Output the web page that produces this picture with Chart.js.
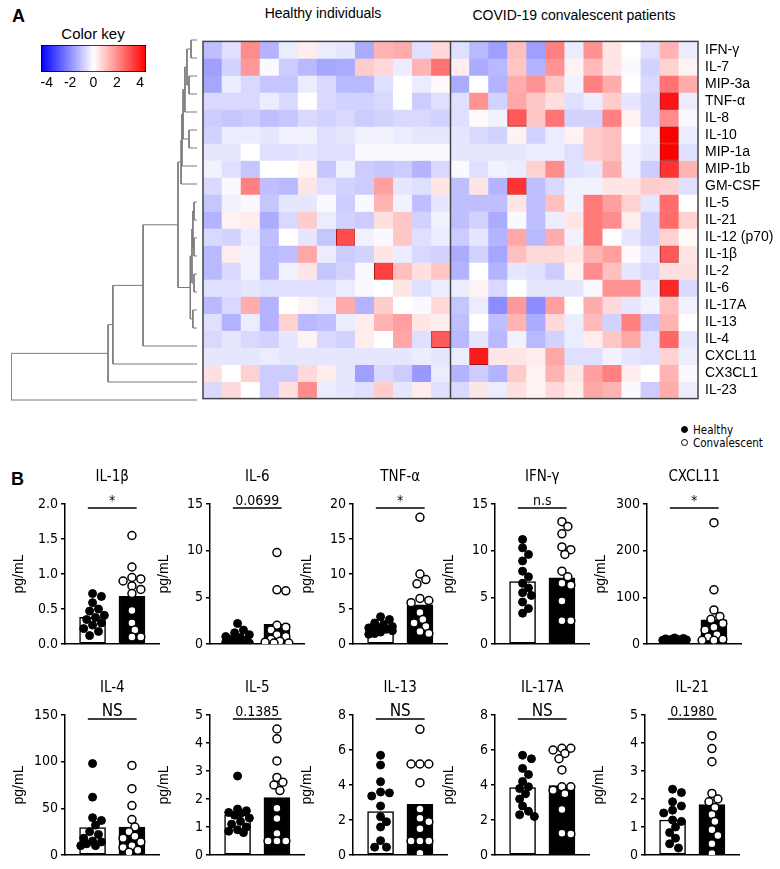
<!DOCTYPE html>
<html>
<head>
<meta charset="utf-8">
<script src="https://cdn.jsdelivr.net/npm/chart.js@4.4.1/dist/chart.umd.min.js"></script>
<style>
  body { margin: 0; background: #fff; }
  #page { position: relative; width: 780px; height: 869px; overflow: hidden; font-family: "Liberation Sans", Arial, sans-serif; color: #000; }
  canvas { position: absolute; }
  .txt { position: absolute; white-space: nowrap; line-height: 1; }
  .c { transform: translate(-50%, -50%); }
  .dot { display: inline-block; width: 5px; height: 5px; border-radius: 50%; border: 1px solid #000; margin-right: 5px; vertical-align: 1px; }
</style>
</head>
<body>
<div id="page">
  <div class="txt" style="left:12px;top:7px;font-weight:bold;font-size:18px;">A</div>
  <div class="txt c" style="left:93px;top:33px;font-size:15px;">Color key</div>
  <div class="txt c" style="left:323px;top:13px;font-size:14px;">Healthy individuals</div>
  <div class="txt c" style="left:574px;top:15px;font-size:14px;">COVID-19 convalescent patients</div>
  <div class="txt" style="left:681px;top:425px;font-size:11.5px;font-family:'Liberation Sans Narrow','DejaVu Sans Condensed',sans-serif;"><span class="dot" style="background:#000"></span>Healthy</div>
  <div class="txt" style="left:681px;top:438px;font-size:11.5px;font-family:'Liberation Sans Narrow','DejaVu Sans Condensed',sans-serif;"><span class="dot" style="background:#fff"></span>Convalescent</div>
  <div class="txt" style="left:11px;top:470px;font-weight:bold;font-size:18px;">B</div>

  <canvas id="dendro" width="203" height="388" style="left:0;top:26px;"></canvas>
  <canvas id="heat" width="582" height="388" style="left:198px;top:26px;"></canvas>
  <canvas id="key" width="128" height="55" style="left:30px;top:40px;"></canvas>
</div>

<script>
// ---------- panel A: heatmap ----------
const cytokines = ["IFN-γ", "IL-7", "MIP-3a", "TNF-α", "IL-8", "IL-10", "MIP-1a", "MIP-1b", "GM-CSF",
  "IL-5", "IL-21", "IL-12 (p70)", "IL-1β", "IL-2", "IL-6", "IL-17A", "IL-13", "IL-4", "CXCL11", "CX3CL1", "IL-23"];

// z-scores, one row per cytokine, 13 healthy donors
const healthyZ = [
  [-1, -0.5, 1.8, -1.2, -0.3, 0.3, -0.3, -0.4, -1.3, 1.2, 1.3, -0.5, 0.6],
  [-1.5, -0.7, 1.6, -0.1, -0.8, -1.1, -1.4, -1.3, 0.8, 0.6, -0.3, 1.2, 2.2],
  [-1.4, -0.3, -0.6, -0.9, -0.9, -0.3, -0.6, -1.1, -1.1, -0.5, 0, -0.3, 0.1],
  [-0.6, -0.6, -0.6, -0.3, -0.6, 0, -0.6, -0.7, -0.7, -0.6, 0, -0.8, -0.5],
  [-0.8, -0.9, -0.8, -1.0, -0.9, -0.6, -0.7, -0.6, -0.8, -0.7, -0.6, -0.6, -0.7],
  [-0.7, -0.3, -0.3, -0.4, -0.2, -0.2, -0.5, -0.4, -0.2, -0.2, -0.3, -0.4, -0.4],
  [-0.4, -0.4, 0, -0.5, -0.5, -0.4, -0.5, -0.5, -0.1, -0.1, -0.1, -0.1, -0.1],
  [-0.2, -0.5, -0.9, 0, 0, 0.2, -0.9, -0.2, -0.8, -0.9, -0.8, -1.2, -0.6],
  [-0.6, -0.1, 2.0, -1.0, -1.1, 0.4, -0.5, -0.7, -0.8, 1.5, -0.4, -0.5, 0.4],
  [-0.9, -0.2, -0.1, -0.9, -0.4, -0.4, -0.1, -0.8, -0.1, 1.2, -0.2, -1.0, -0.4],
  [-1.2, 0.2, 0.3, -1.3, -0.6, 0.8, -0.3, -0.7, -0.8, 0.5, 0.9, -0.7, -0.2],
  [-0.6, -0.7, -0.3, -1.0, 0, -0.4, -0.9, 2.8, -0.2, -0.1, 0.9, -0.5, -0.3],
  [-1.1, 0.3, -0.2, -1.1, -1.0, 1.4, -0.3, -0.8, -0.7, 0.4, -0.3, -0.6, -0.7],
  [-1.1, -0.6, -0.2, -1.1, -0.2, 0.4, -0.9, -0.7, -0.1, 3.0, 1.0, 0.5, 0.9],
  [-0.5, -0.5, -0.4, -0.5, -0.5, -0.5, -0.5, -0.3, -0.1, 0, 0.4, -0.5, -0.3],
  [-1.1, -0.6, 1.3, -1.2, 0, 0.2, -0.3, 1.3, -1.2, 0.8, 0, -0.1, 0.6],
  [-0.5, -1.2, -0.3, -1.2, 0.7, -1.1, -1.0, -0.3, 0.3, 1.2, 1.5, 0.4, 0.3],
  [-0.6, -0.4, -0.6, -0.7, -0.4, 0.2, -0.6, -0.7, 0.3, 0, 1.4, -0.5, 2.6],
  [-0.4, -0.4, -0.4, -0.3, -0.4, -0.4, -0.4, -0.4, -0.4, -0.4, -0.4, -0.3, -0.4],
  [0.5, 0, 0.7, -0.8, -0.8, 0.6, 0.3, -0.4, -1.5, -0.6, -0.8, -1.6, -0.3],
  [-0.6, 0.6, 0, -0.8, 0.5, 1.8, -0.3, -0.4, -0.5, 0.8, -0.4, 0.3, -0.5]
];

// z-scores, 13 convalescent patients
const covidZ = [
  [-0.5, -1.1, -1.5, 1.0, -1.5, 2.0, -0.3, 1.7, 0.4, 0, -0.5, 1.2, -0.3],
  [0.3, -1.3, -1.1, 0.9, -1.2, 1.7, 0.2, 1.1, 0.4, -0.1, -0.7, 0.7, 0.2],
  [-1.3, 0, -1.2, 1.3, 1.7, 0.9, -0.2, 2.0, 1.3, 0, -0.6, 2.2, 1.3],
  [-0.5, 1.7, -0.7, 1.4, 0.9, 0.5, -0.5, -0.3, 0.8, -0.4, -0.7, 3.7, -0.3],
  [-0.5, 0.1, -0.2, 2.6, 0.9, 2.2, -0.7, -0.7, 2.0, 0.2, -0.7, 1.8, -0.1],
  [-0.4, -0.6, -0.7, 0.2, -0.7, -0.3, 0.2, 0.8, 1.0, 0, -0.3, 4.0, -0.3],
  [-0.4, -0.4, -0.4, -0.4, -0.3, -0.3, -0.5, 0.8, 1.0, -0.2, -0.4, 4.0, -0.5],
  [-0.1, -0.5, -0.2, -0.3, 0.7, 1.8, -0.5, -0.4, 1.3, -0.2, -0.8, 3.2, 1.2],
  [-1.0, 0.4, -1.2, 3.2, -1.0, -0.6, -0.2, -0.2, 0.4, 0.4, 0.8, 0.7, -0.5],
  [-1.0, -1.0, -1.0, 0.4, -1.0, 1.0, -0.2, 2.1, 1.5, 0.7, -0.4, 2.3, 0],
  [-1.0, -0.7, -1.3, -0.1, -1.0, -0.3, 0.4, 2.1, 1.8, 0.3, -0.7, 2.3, 0.7],
  [-0.8, -0.4, -1.2, 1.4, -1.1, 1.3, -0.2, 2.1, 0, -0.4, -0.7, 0.7, 0.1],
  [-1.3, -0.7, -1.4, 1.0, 0.6, 0.6, 0.4, 1.2, 1.5, 0.1, -0.4, 2.6, 0.4],
  [-1.2, 0, -1.2, -0.4, -0.5, -0.8, 0.2, 1.8, 1.0, -0.4, -0.6, 0.5, 0.5],
  [-0.3, 0.2, -0.6, 0, -0.4, -0.4, -0.4, -0.1, 1.7, 1.7, -0.4, 3.4, -0.6],
  [-0.9, -0.3, -1.8, 1.6, -1.8, 1.5, 0, 1.3, 0.6, -0.4, -0.2, 1.0, -0.2],
  [-1.0, 0, -1.0, 1.2, -1.3, 0.6, -0.3, 1.1, -0.7, 2.0, -0.9, 1.2, 0],
  [-1.1, -0.4, -1.1, -0.2, -1.1, -0.7, -0.3, 0.3, 0.9, 1.4, -0.5, 2.4, -0.4],
  [-0.3, 3.6, 0.4, 0.4, 0.3, 1.4, -0.5, -0.5, -0.2, -0.4, -0.5, 0.7, -0.3],
  [-1.2, -0.8, -1.2, 0.8, 0.2, 1.2, 0.4, 1.5, 2.0, 0.3, 0, 1.2, -0.1],
  [-0.6, 0.4, -0.3, 0.5, 0.2, 0.6, 0.3, 1.4, 1.2, -0.1, -0.8, 1.3, -0.3]
];

// row dendrogram, hclust style: negative = row (-(i+1)), positive = earlier merge (1-based)
const dendroMerge = [
  [-1, -2, 0.32], [-3, -4, 0.43], [1, 2, 0.54], [3, -5, 0.65], [-6, -7, 0.43],
  [4, 5, 0.75], [6, -8, 0.81], [7, -9, 0.86], [-10, -11, 0.16], [-12, -13, 0.16],
  [9, 10, 0.22], [-14, -15, 0.16], [11, 12, 0.27], [-16, -17, 0.22], [13, 14, 0.36],
  [8, 15, 1.02], [16, -18, 2.9], [17, -19, 4.52], [18, -20, 4.78], [19, -21, 10]
];

const keyTicks = [-4, -2, 0, 2, 4];

// ---------- panel B ----------
const panelNames = ["IL-1β", "IL-6", "TNF-α", "IFN-γ", "CXCL11", "IL-4", "IL-5", "IL-13", "IL-17A", "IL-21"];
const panelP = ["*", "0.0699", "*", "n.s", "*", "NS", "0.1385", "NS", "NS", "0.1980"];
const panelMax = [2, 15, 20, 15, 300, 150, 5, 8, 8, 5];
const panelStep = [0.5, 5, 5, 5, 100, 50, 1, 2, 2, 1];
const healthyMean = [0.38, 0.45, 2.4, 6.7, 9, 29.5, 1.43, 2.48, 3.85, 1.25];
const covidMean = [0.68, 2.1, 5.6, 7.1, 52, 30, 2.05, 2.9, 3.96, 1.8];

const healthyPts = [
  [0.72, 0.68, 0.59, 0.5, 0.47, 0.41, 0.38, 0.35, 0.3, 0.27, 0.22, 0.18, 0.12],
  [2.2, 1.5, 1.2, 1.0, 0.8, 0.7, 0.5, 0.4, 0.3, 0.2, 0.1, 0.1, 0.05],
  [3.9, 3.5, 3.0, 2.8, 2.5, 2.3, 2.2, 2.1, 2.0, 1.9, 1.7, 1.5, 1.4],
  [11.2, 10.3, 9.6, 8.9, 7.8, 7.2, 6.5, 6.0, 5.5, 5.2, 4.5, 3.8, 3.3],
  [13, 12, 11, 10, 10, 9, 8, 8, 7, 7, 6, 5, 5],
  [98, 62, 40, 37, 32, 25, 22, 18, 15, 14, 12, 10, 10],
  [2.82, 1.64, 1.58, 1.52, 1.48, 1.42, 1.32, 1.2, 1.1, 1.0, 0.9, 0.85, 0.8],
  [5.7, 5.14, 4.19, 3.6, 3.55, 3.37, 2.8, 2.19, 1.9, 1.6, 0.82, 0.45, 0.45],
  [5.7, 5.5, 4.95, 4.6, 4.2, 3.9, 3.8, 3.5, 3.2, 2.8, 2.5, 2.3, 2.2],
  [2.35, 2.23, 1.9, 1.75, 1.6, 1.5, 1.25, 1.2, 1.0, 0.8, 0.6, 0.4, 0.25]
];
const covidPts = [
  [1.55, 1.1, 0.95, 0.93, 0.9, 0.83, 0.78, 0.72, 0.48, 0.3, 0.2, 0.1, 0.1],
  [9.8, 5.8, 5.7, 2.0, 1.8, 1.5, 1.0, 0.8, 0.5, 0.3, 0.2, 0.1, 0.1],
  [18.1, 10, 9.2, 8.6, 6.5, 6.2, 5.9, 4.5, 3.5, 3.0, 2.5, 1.8, 1.5],
  [13.1, 12.6, 11.8, 10.4, 10.1, 9.6, 7.8, 7.2, 6.5, 6.3, 4.6, 2.5, 2.5],
  [260, 116, 73, 59, 53, 44, 36, 30, 20, 15, 10, 8, 8],
  [96, 71, 53, 38, 30, 25, 20, 18, 14, 10, 8, 5, 3],
  [4.5, 4.15, 3.36, 2.77, 2.6, 2.5, 2.3, 1.67, 1.3, 0.77, 0.5, 0.5, 0.5],
  [7.18, 5.2, 5.2, 5.2, 4.13, 2.63, 2.1, 1.9, 1.5, 0.8, 0.8, 0.8, 0.1],
  [6.1, 6.1, 6.0, 5.8, 5.5, 4.86, 3.9, 3.9, 3.7, 3.5, 2.6, 1.24, 1.2],
  [4.26, 3.8, 3.33, 2.2, 2.0, 1.9, 1.7, 1.45, 1.2, 0.9, 0.7, 0.4, 0.05]
];

const FONT = '"Liberation Sans", Arial, sans-serif';
const NARROW = '"Liberation Sans Narrow", "DejaVu Sans Condensed", "Liberation Sans", sans-serif';
Chart.defaults.color = "#000";

function zColor(v) {
  const t = Math.max(-1, Math.min(1, v / 4));
  if (t < 0) {
    const c = Math.round(255 * (1 + t));
    return "rgb(" + c + "," + c + ",255)";
  }
  const c = Math.round(255 * (1 - t));
  return "rgb(255," + c + "," + c + ")";
}

// ----- heatmap (stacked cells) -----
const sampleIds = healthyZ[0].map((_, i) => "H" + (i + 1)).concat(covidZ[0].map((_, i) => "C" + (i + 1)));

const heatFrame = {
  id: "heatFrame",
  afterDatasetsDraw(chart) {
    const { ctx, chartArea: a, scales: { x } } = chart;
    const mid = (x.getPixelForValue(12) + x.getPixelForValue(13)) / 2;
    ctx.save();
    ctx.strokeStyle = "#444";
    ctx.lineWidth = 1.5;
    ctx.strokeRect(a.left, a.top, a.right - a.left, a.bottom - a.top);
    ctx.beginPath();
    ctx.moveTo(mid, a.top);
    ctx.lineTo(mid, a.bottom);
    ctx.stroke();
    ctx.restore();
  }
};

new Chart(document.getElementById("heat"), {
  type: "bar",
  data: {
    labels: sampleIds,
    datasets: cytokines.map((name, r) => {
      const row = healthyZ[r].concat(covidZ[r]);
      return {
        label: name,
        data: row.map(() => 1),
        backgroundColor: row.map(zColor),
        borderColor: "rgba(160,0,0,0.9)",
        borderWidth: row.map(v => (v >= 2.5 ? 1 : 0)),
        borderSkipped: false,
        barPercentage: 1,
        categoryPercentage: 1
      };
    })
  },
  options: {
    responsive: false, animation: false, devicePixelRatio: 1,
    layout: { padding: { left: 5, top: 5, bottom: 5, right: 0 } },
    plugins: { legend: { display: false }, tooltip: { enabled: false } },
    scales: {
      x: { stacked: true, display: false },
      y: {
        stacked: true, position: "right", reverse: true, min: 0, max: cytokines.length,
        afterBuildTicks: s => { s.ticks = cytokines.map((_, i) => ({ value: i + 0.5 })); },
        afterFit: s => { s.width = 82; },
        ticks: { autoSkip: false, padding: 7, font: { family: FONT, size: 14 }, callback: (v, i) => cytokines[i] },
        grid: { display: false, drawTicks: false },
        border: { display: false }
      }
    }
  },
  plugins: [heatFrame]
});

// ----- dendrogram -----
function dendroSegments() {
  const nodes = [];
  const node = id => (id < 0 ? { y: -id - 0.5, h: 0 } : nodes[id - 1]);
  return dendroMerge.map(([a, b, h]) => {
    const A = node(a), B = node(b);
    nodes.push({ y: (A.y + B.y) / 2, h: h });
    return [{ x: A.h, y: A.y }, { x: h, y: A.y }, { x: h, y: B.y }, { x: B.h, y: B.y }];
  });
}

new Chart(document.getElementById("dendro"), {
  type: "scatter",
  data: {
    datasets: dendroSegments().map(seg => ({
      data: seg, showLine: true, borderColor: "#7a7a7a", borderWidth: 1, pointRadius: 0
    }))
  },
  options: {
    responsive: false, animation: false, devicePixelRatio: 1,
    layout: { padding: { left: 11, right: 6, top: 5, bottom: 5 } },
    plugins: { legend: { display: false }, tooltip: { enabled: false } },
    scales: {
      x: { display: false, type: "linear", min: 0, max: 10, reverse: true },
      y: { display: false, type: "linear", min: 0, max: cytokines.length, reverse: true }
    }
  }
});

// ----- colour key -----
new Chart(document.getElementById("key"), {
  type: "bar",
  data: {
    labels: ["key"],
    datasets: [{
      data: [[-4.5, 4.5]],
      backgroundColor: c => {
        const a = c.chart.chartArea;
        if (!a) return "#fff";
        const g = c.chart.ctx.createLinearGradient(a.left, 0, a.right, 0);
        g.addColorStop(0, zColor(-4));
        g.addColorStop(0.5, zColor(0));
        g.addColorStop(1, zColor(4));
        return g;
      },
      borderColor: "#000", borderWidth: 1, borderSkipped: false,
      barPercentage: 1, categoryPercentage: 1
    }]
  },
  options: {
    indexAxis: "y",
    responsive: false, animation: false, devicePixelRatio: 1,
    layout: { padding: { left: 11, right: 12, top: 5, bottom: 0 } },
    plugins: { legend: { display: false }, tooltip: { enabled: false } },
    scales: {
      x: {
        type: "linear", min: -4.5, max: 4.5, offset: false,
        afterBuildTicks: s => { s.ticks = keyTicks.map(v => ({ value: v })); },
        afterFit: s => { s.height = 23; },
        ticks: { padding: 3, font: { family: FONT, size: 14 } },
        grid: { display: false, drawTicks: false },
        border: { display: false }
      },
      y: { display: false }
    }
  }
});

// ----- panel B small charts -----
const AREA_W = 96, AREA_H = 140;
const axisLeft = [65, 210, 353, 495, 647, 65, 210, 353, 495, 645];
const areaTop = [504, 504, 504, 504, 504, 715, 715, 715, 715, 715];

// simple beeswarm: spread overlapping dots sideways, at most ~12px from the bar centre
function swarm(vals, yMax, center) {
  const sy = AREA_H / yMax, sx = AREA_W / 2.4, d = 7.5;
  const placed = [], xs = new Array(vals.length);
  const order = vals.map((v, i) => i).sort((a, b) => vals[b] - vals[a]);
  for (const i of order) {
    const py = vals[i] * sy;
    let best = 0, bestGap = -1;
    for (let k = 0; k < 9; k++) {
      const off = (k % 2 ? 1 : -1) * Math.ceil(k / 2) * 3;
      const gap = placed.reduce((m, p) => Math.min(m, Math.hypot(p.x - off, p.y - py)), Infinity);
      if (gap >= d) { best = off; break; }
      if (gap > bestGap) { bestGap = gap; best = off; }
    }
    placed.push({ x: best, y: py });
    xs[i] = center + best / sx;
  }
  return xs;
}

const panelDecor = {
  id: "panelDecor",
  afterDraw(chart, args, opts) {
    const { ctx, chartArea: a, scales: { x } } = chart;
    const x0 = x.getPixelForValue(-0.12), x1 = x.getPixelForValue(1.12);
    ctx.save();
    ctx.fillStyle = "#000";
    ctx.textAlign = "center";
    ctx.textBaseline = "middle";
    ctx.font = "15px " + NARROW;
    ctx.fillText(opts.title, (a.left + a.right) / 2, a.top - 27);
    ctx.strokeStyle = "#000";
    ctx.lineWidth = 1.5;
    ctx.beginPath();
    ctx.moveTo(x0, a.top + 4);
    ctx.lineTo(x1, a.top + 4);
    ctx.stroke();
    ctx.textBaseline = "alphabetic";
    ctx.font = (opts.sig === "NS" ? "17px " : "14px ") + NARROW;
    ctx.fillText(opts.sig, (x0 + x1) / 2, a.top + 1);
    ctx.restore();
  }
};

const page = document.getElementById("page");
panelNames.forEach((name, i) => {
  const cv = document.createElement("canvas");
  cv.width = 160;
  cv.height = 200;
  cv.style.left = (axisLeft[i] - 60) + "px";
  cv.style.top = (areaTop[i] - 45) + "px";
  page.appendChild(cv);

  const hx = swarm(healthyPts[i], panelMax[i], 0);
  const cx = swarm(covidPts[i], panelMax[i], 1);

  new Chart(cv, {
    type: "bar",
    data: {
      datasets: [
        {
          data: [{ x: 0, y: healthyMean[i] }, { x: 1, y: covidMean[i] }],
          backgroundColor: ["#fff", "#000"], borderColor: "#000", borderWidth: 1.5,
          borderSkipped: false, barThickness: 26, order: 3
        },
        {
          type: "scatter", data: healthyPts[i].map((v, k) => ({ x: hx[k], y: v })),
          backgroundColor: "#000", borderColor: "#000", borderWidth: 1, pointRadius: 4, order: 1
        },
        {
          type: "scatter", data: covidPts[i].map((v, k) => ({ x: cx[k], y: v })),
          backgroundColor: "#fff", borderColor: "#000", borderWidth: 1.5, pointRadius: 4, order: 2
        }
      ]
    },
    options: {
      responsive: false, animation: false, devicePixelRatio: 1,
      layout: { padding: { left: 0, right: 4, top: 45, bottom: 13 } },
      plugins: {
        legend: { display: false }, tooltip: { enabled: false },
        panelDecor: { title: name, sig: panelP[i] }
      },
      scales: {
        x: {
          type: "linear", min: -0.7, max: 1.7, offset: false,
          afterFit: s => { s.height = 2; },
          ticks: { display: false },
          grid: { display: false, drawTicks: false, offset: false },
          border: { color: "#000", width: 1.5 }
        },
        y: {
          min: 0, max: panelMax[i],
          afterFit: s => { s.width = 60; },
          ticks: {
            stepSize: panelStep[i], padding: 3, font: { family: NARROW, size: 14 },
            callback: v => (panelStep[i] < 1 ? v.toFixed(1) : v)
          },
          grid: { drawOnChartArea: false, drawTicks: true, tickLength: 4, color: "#000", lineWidth: 1.5 },
          border: { color: "#000", width: 1.5 },
          title: { display: true, text: "pg/mL", font: { family: FONT, size: 14 }, padding: { top: 6, bottom: 0 } }
        }
      }
    },
    plugins: [panelDecor]
  });
});
</script>
</body>
</html>
